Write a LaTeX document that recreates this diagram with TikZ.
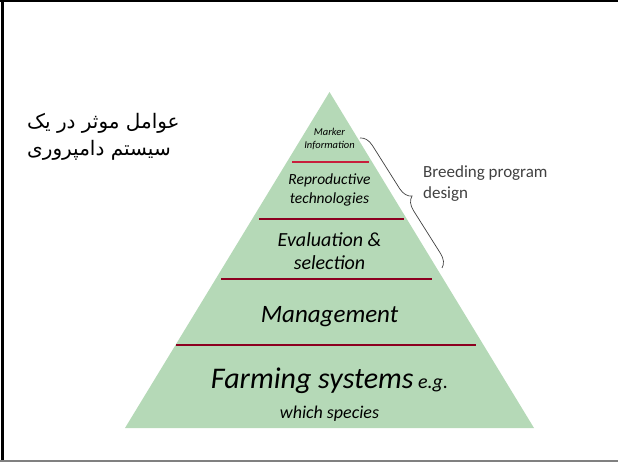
\documentclass[tikz,border=0pt]{standalone}
\usepackage{fontspec}
\setmainfont{Carlito}
\newfontfamily\farsifont[Script=Arabic]{DejaVu Sans}
\TeXXeTstate=1
\usepackage{xcolor}
\definecolor{PyrGreen}{RGB}{181,217,183}
\definecolor{TierRed}{RGB}{140,0,32}
\definecolor{TopRed}{RGB}{200,30,60}
\definecolor{NoteGray}{RGB}{64,64,64}
\usetikzlibrary{positioning, decorations.pathreplacing}
\tikzset{
  % tier separators
  tierline/.style={draw=TierRed, line width=1.1pt},
  % tier labels
  tierlbl/.style={align=center, inner sep=0pt, font=\itshape},
  % brace on the right
  bracestyle/.style={decorate, decoration={brace, amplitude=13pt}, draw=NoteGray, line width=0.7pt},
  notelbl/.style={align=left, inner sep=0pt, text=NoteGray, font=\fontsize{17}{21}\selectfont},
}

\begin{document}
\begin{tikzpicture}[x=1pt, y=-1pt]
  \useasboundingbox (0,0) rectangle (618,462);
  % frame
  \draw[black, line width=1.6pt] (0,1) -- (618,1);
  \draw[black, line width=3pt] (2,0) -- (2,462);
  \draw[gray, line width=1.2pt] (0,461) -- (618,461);

  % pyramid
  \coordinate (apex) at (329.5,92);
  \coordinate (bl) at (125,428);
  \coordinate (br) at (534,428);
  \fill[PyrGreen] (apex) -- (br) -- (bl) -- cycle;

  \draw[draw=TopRed, line width=1.1pt] (292,162) -- (369,162);
  \draw[tierline] (259,219) -- (404,219);
  \draw[tierline] (221,279) -- (432,279);
  \draw[tierline] (176,345) -- (476,345);

  \node[tierlbl, font=\itshape\fontsize{10.5}{12.5}\selectfont] (marker) at (329.5,139) {Marker\\Information};
  \node[tierlbl, font=\itshape\fontsize{15.5}{19}\selectfont] (repro) at (329.5,190) {Reproductive\\technologies};
  \node[tierlbl, font=\itshape\fontsize{20}{23}\selectfont] (evalsel) at (329.5,251) {Evaluation \&\\selection};
  \node[tierlbl, font=\itshape\fontsize{25}{30}\selectfont] (mgmt) at (329.5,317) {Management};
  \node[tierlbl, font=\itshape\fontsize{20}{30}\selectfont] (farming) at (329.5,395)
    {{\fontsize{30}{34}\selectfont Farming systems} e.g.\\
     {\fontsize{18}{22}\selectfont which species}};

  % brace and its note
  \coordinate (brtop) at (360,138);
  \coordinate (brbot) at (442,268);
  \draw[bracestyle] (brtop) -- (brbot);
  \node[notelbl, anchor=north west] (breeding) at (423,165) {Breeding program\\design};

  % persian title
  \node[anchor=north west, align=left, inner sep=0pt, font=\farsifont\fontsize{20}{27}\selectfont] (title) at (27,113)
    {\beginR عوامل موثر در یک\endR\\\beginR سیستم دامپروری\endR};
\end{tikzpicture}
\end{document}
